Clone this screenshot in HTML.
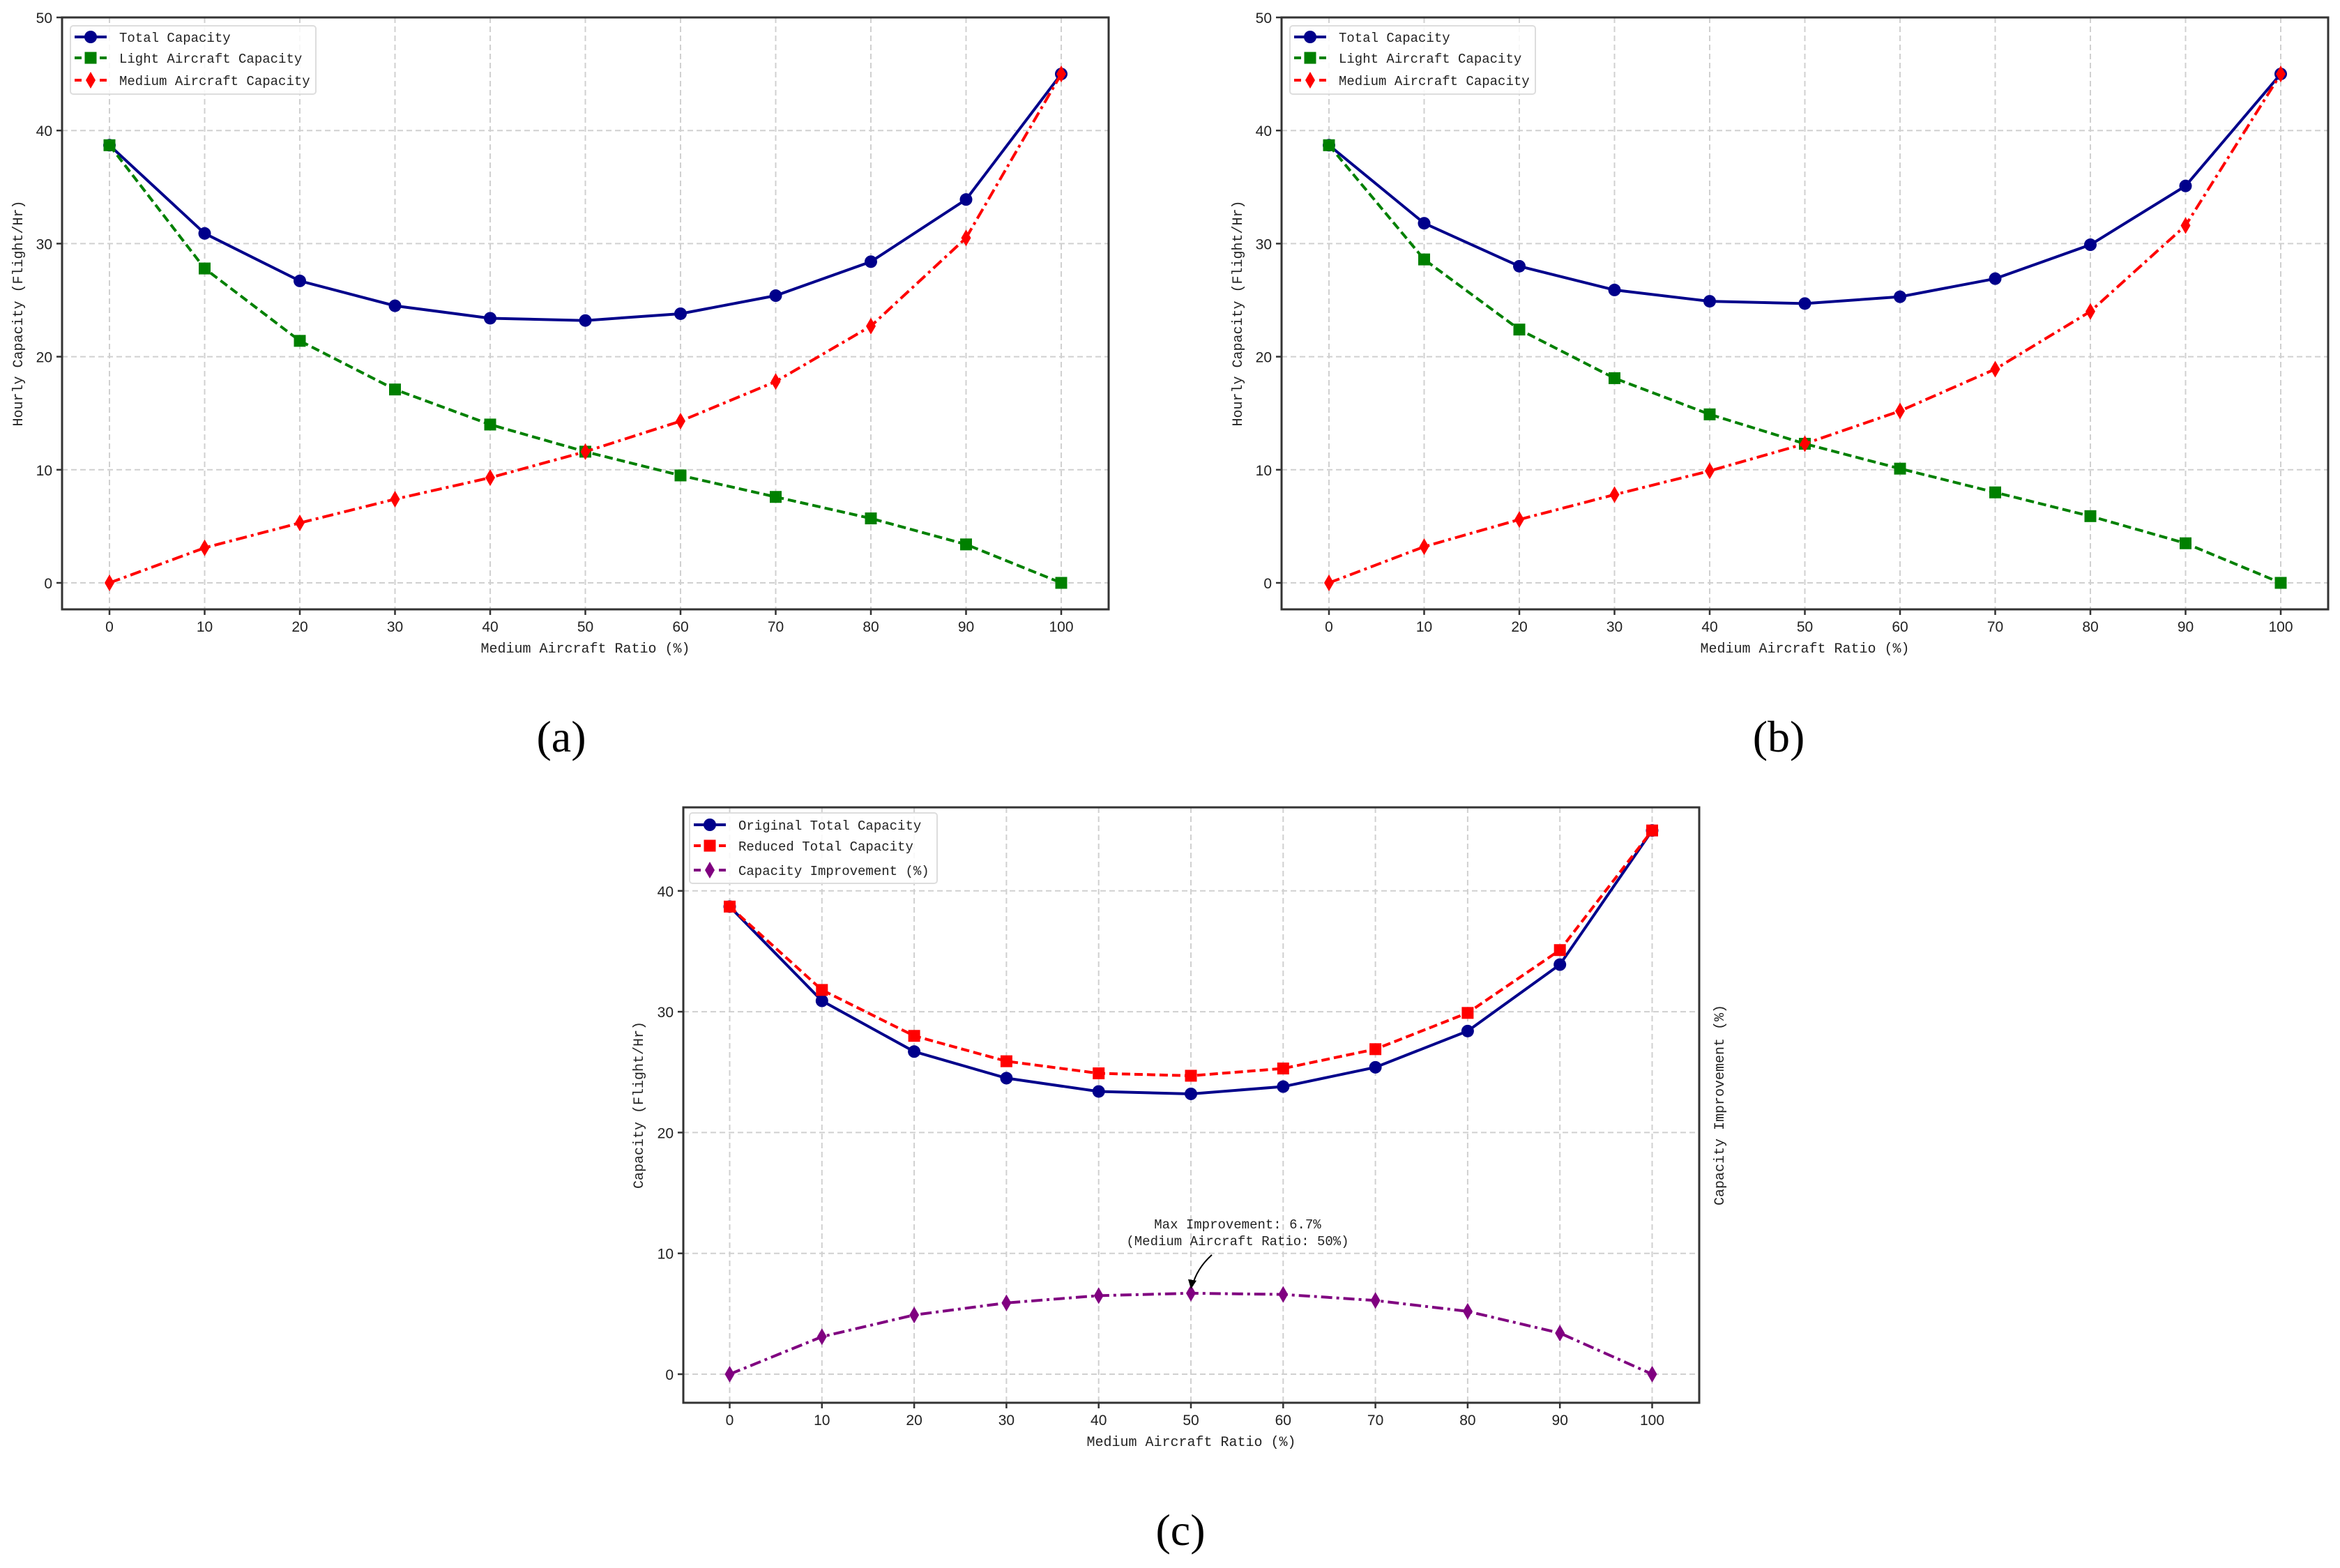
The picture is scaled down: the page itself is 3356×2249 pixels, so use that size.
<!DOCTYPE html>
<html><head><meta charset="utf-8"><style>
body{margin:0;background:#fff;}
svg{display:block;}
.tick{font-family:"Liberation Sans",sans-serif;font-size:21px;fill:#222;}
.lab{font-family:"Liberation Mono","Noto Sans CJK SC",monospace;font-size:20px;fill:#222;}
.leg{font-family:"Liberation Mono","Noto Sans CJK SC",monospace;font-size:19px;fill:#222;}
.cap{font-family:"Liberation Serif",serif;font-size:64px;fill:#000;}
</style></head><body>
<svg id="fig" width="3356" height="2249" xmlns="http://www.w3.org/2000/svg"></svg>
<script>
const categories=[0,10,20,30,40,50,60,70,80,90,100];
const aTotal=[38.7,30.9,26.7,24.5,23.4,23.2,23.8,25.4,28.4,33.9,45.0];
const aLight=[38.7,27.8,21.4,17.1,14.0,11.6,9.5,7.6,5.7,3.4,0];
const aMedium=[0,3.1,5.3,7.4,9.3,11.6,14.3,17.8,22.7,30.5,45.0];
const bTotal=[38.7,31.8,28.0,25.9,24.9,24.7,25.3,26.9,29.9,35.1,45.0];
const bLight=[38.7,28.6,22.4,18.1,14.9,12.3,10.1,8.0,5.9,3.5,0];
const bMedium=[0,3.2,5.6,7.8,9.9,12.3,15.2,18.9,24.0,31.6,45.0];
const cOriginal=[38.7,30.9,26.7,24.5,23.4,23.2,23.8,25.4,28.4,33.9,45.0];
const cReduced=[38.7,31.8,28.0,25.9,24.9,24.7,25.3,26.9,29.9,35.1,45.0];
const cImprove=[0,3.1,4.9,5.9,6.5,6.7,6.6,6.1,5.2,3.4,0];
const xTicks=[0,10,20,30,40,50,60,70,80,90,100];
const yTicksAB=[0,10,20,30,40,50];
const yTicksC=[0,10,20,30,40];

const NS="http://www.w3.org/2000/svg";
const svg=document.getElementById('fig');
function mk(tag,attrs,parent){const e=document.createElementNS(NS,tag);for(const k in attrs)e.setAttribute(k,attrs[k]);(parent||svg).appendChild(e);return e;}

function marker(g,type,x,y,color){
  let m;
  if(type==='o'){m=mk('circle',{cx:x,cy:y,r:9,fill:color},g);}
  else if(type==='s'){m=mk('rect',{x:x-8.5,y:y-8.5,width:17,height:17,fill:color},g);}
  else {m=mk('polygon',{points:`${x},${y-12} ${x+7},${y} ${x},${y+12} ${x-7},${y}`,fill:color},g);}
  return m;
}
const dashes={solid:'',dash:'12,6',dashdot:'16,6,4,6'};

function panel(cfg){
  const g=mk('g',{});
  
  
  const X=v=>cfg.x0+(v-0)*cfg.dx/10;
  const Y=v=>cfg.y0-v*cfg.dy;
  const grid=mk('g',{},g);
  
  
  xTicks.forEach(t=>mk('line',{x1:X(t),x2:X(t),y1:cfg.top,y2:cfg.bottom,stroke:'#d0d0d0','stroke-width':2,'stroke-dasharray':'8,5'},grid));
  cfg.yticks.forEach(t=>mk('line',{x1:cfg.left,x2:cfg.right,y1:Y(t),y2:Y(t),stroke:'#d0d0d0','stroke-width':2,'stroke-dasharray':'8,5'},grid));
  cfg.series.forEach(s=>{
    const sg=mk('g',{},g);
    
    
    const pts=s.data.map((v,i)=>X(categories[i])+','+Y(v)).join(' ');
    mk('polyline',{points:pts,fill:'none',stroke:s.color,'stroke-width':4,'stroke-dasharray':dashes[s.ls]},sg);
    s.data.forEach((v,i)=>{const m=marker(sg,s.mk,X(categories[i]),Y(v),s.color);
      
      });
  });
  const fr=mk('rect',{x:cfg.left,y:cfg.top,width:cfg.right-cfg.left,height:cfg.bottom-cfg.top,fill:'none',stroke:'#333','stroke-width':3},g);
  
  
  xTicks.forEach(t=>{mk('line',{x1:X(t),x2:X(t),y1:cfg.bottom,y2:cfg.bottom+8,stroke:'#333','stroke-width':2.5},g);
    const tx=mk('text',{x:X(t),y:cfg.bottom+32,'text-anchor':'middle',class:'tick'},g);tx.textContent=t;
    
    });
  cfg.yticks.forEach(t=>{mk('line',{x1:cfg.left-8,x2:cfg.left,y1:Y(t),y2:Y(t),stroke:'#333','stroke-width':2.5},g);
    const tx=mk('text',{x:cfg.left-14,y:Y(t)+8,'text-anchor':'end',class:'tick'},g);tx.textContent=t;
    
    });
  const xl=mk('text',{x:(cfg.left+cfg.right)/2,y:cfg.bottom+62,'text-anchor':'middle',class:'lab'},g);xl.textContent='Medium Aircraft Ratio (%)';
  
  
  const ym=(cfg.top+cfg.bottom)/2;
  const yl=mk('text',{x:cfg.ylx,y:ym,'text-anchor':'middle',class:'lab',transform:`rotate(-90 ${cfg.ylx} ${ym})`},g);yl.textContent=cfg.ylabel;
  
  
  const lg=mk('g',{},g);
  
  
  mk('rect',{x:cfg.leg.x,y:cfg.leg.y,width:cfg.leg.w,height:cfg.leg.h,rx:4,fill:'#fff','fill-opacity':0.85,stroke:'#ddd','stroke-width':2},lg);
  cfg.series.forEach((s,i)=>{
    const ly=cfg.leg.y+cfg.leg.rows[i];
    const eg=mk('g',{},lg);
    
    
    mk('line',{x1:cfg.leg.x+6,x2:cfg.leg.x+52,y1:ly,y2:ly,stroke:s.color,'stroke-width':4,'stroke-dasharray':s.ls==='solid'?'':'10,8'},eg);
    marker(eg,s.mk,cfg.leg.x+29,ly,s.color);
    const t=mk('text',{x:cfg.leg.x+70,y:ly+7,class:'leg'},eg);t.textContent=s.label;
  });
  const cp=mk('text',{x:cfg.cap[0],y:cfg.cap[1],'text-anchor':'middle',class:'cap'},g);cp.textContent=cfg.capText;
  
  
  return {g,X,Y};
}

const legRows=[16,46,78];
panel({name:'panel-a',left:89,right:1590,top:25,bottom:874,x0:157,dx:136.5,y0:836,dy:16.22,yticks:yTicksAB,ylx:32,ylabel:'Hourly Capacity (Flight/Hr)',
  leg:{x:101,y:37,w:352,h:98,rows:legRows},cap:[805,1078],capText:'(a)',
  series:[{name:'total-capacity-a',label:'Total Capacity',data:aTotal,color:'#00008b',mk:'o',ls:'solid'},
          {name:'light-capacity-a',label:'Light Aircraft Capacity',data:aLight,color:'#008000',mk:'s',ls:'dash'},
          {name:'medium-capacity-a',label:'Medium Aircraft Capacity',data:aMedium,color:'#ff0000',mk:'d',ls:'dashdot'}]});
panel({name:'panel-b',left:1838,right:3339,top:25,bottom:874,x0:1906,dx:136.5,y0:836,dy:16.22,yticks:yTicksAB,ylx:1781,ylabel:'Hourly Capacity (Flight/Hr)',
  leg:{x:1850,y:37,w:352,h:98,rows:legRows},cap:[2551,1078],capText:'(b)',
  series:[{name:'total-capacity-b',label:'Total Capacity',data:bTotal,color:'#00008b',mk:'o',ls:'solid'},
          {name:'light-capacity-b',label:'Light Aircraft Capacity',data:bLight,color:'#008000',mk:'s',ls:'dash'},
          {name:'medium-capacity-b',label:'Medium Aircraft Capacity',data:bMedium,color:'#ff0000',mk:'d',ls:'dashdot'}]});
const pc=panel({name:'panel-c',left:980,right:2437,top:1158,bottom:2012,x0:1046.5,dx:132.3,y0:1971,dy:17.33,yticks:yTicksC,ylx:922,ylabel:'Capacity (Flight/Hr)',
  leg:{x:989,y:1166,w:355,h:101,rows:[17,47,82]},cap:[1693,2216],capText:'(c)',
  series:[{name:'original-total-capacity',label:'Original Total Capacity',data:cOriginal,color:'#00008b',mk:'o',ls:'solid'},
          {name:'reduced-total-capacity',label:'Reduced Total Capacity',data:cReduced,color:'#ff0000',mk:'s',ls:'dash'},
          {name:'capacity-improvement',label:'Capacity Improvement (%)',data:cImprove,color:'#800080',mk:'d',ls:'dashdot'}]});
const rl=mk('text',{x:2472,y:1585,'text-anchor':'middle',class:'lab',transform:'rotate(-90 2472 1585)'});
rl.textContent='Capacity Improvement (%)';


const maxI=Math.max(...cImprove);const mi=cImprove.indexOf(maxI);
const ax=pc.X(categories[mi]),ay=pc.Y(maxI);
const an=mk('g',{});


mk('path',{d:`M${ax+30},${ay-55} Q${ax+8},${ay-35} ${ax+2},${ay-10}`,fill:'none',stroke:'#000','stroke-width':2},an);
mk('polygon',{points:`${ax},${ay-6} ${ax-4},${ay-20} ${ax+8},${ay-18}`,fill:'#000'},an);
const t1=mk('text',{x:ax+67,y:ay-93,'text-anchor':'middle',class:'leg'},an);t1.textContent='Max Improvement: '+maxI+'%';
const t2=mk('text',{x:ax+67,y:ay-69,'text-anchor':'middle',class:'leg'},an);t2.textContent='(Medium Aircraft Ratio: '+categories[mi]+'%)';
</script>
</body></html>
